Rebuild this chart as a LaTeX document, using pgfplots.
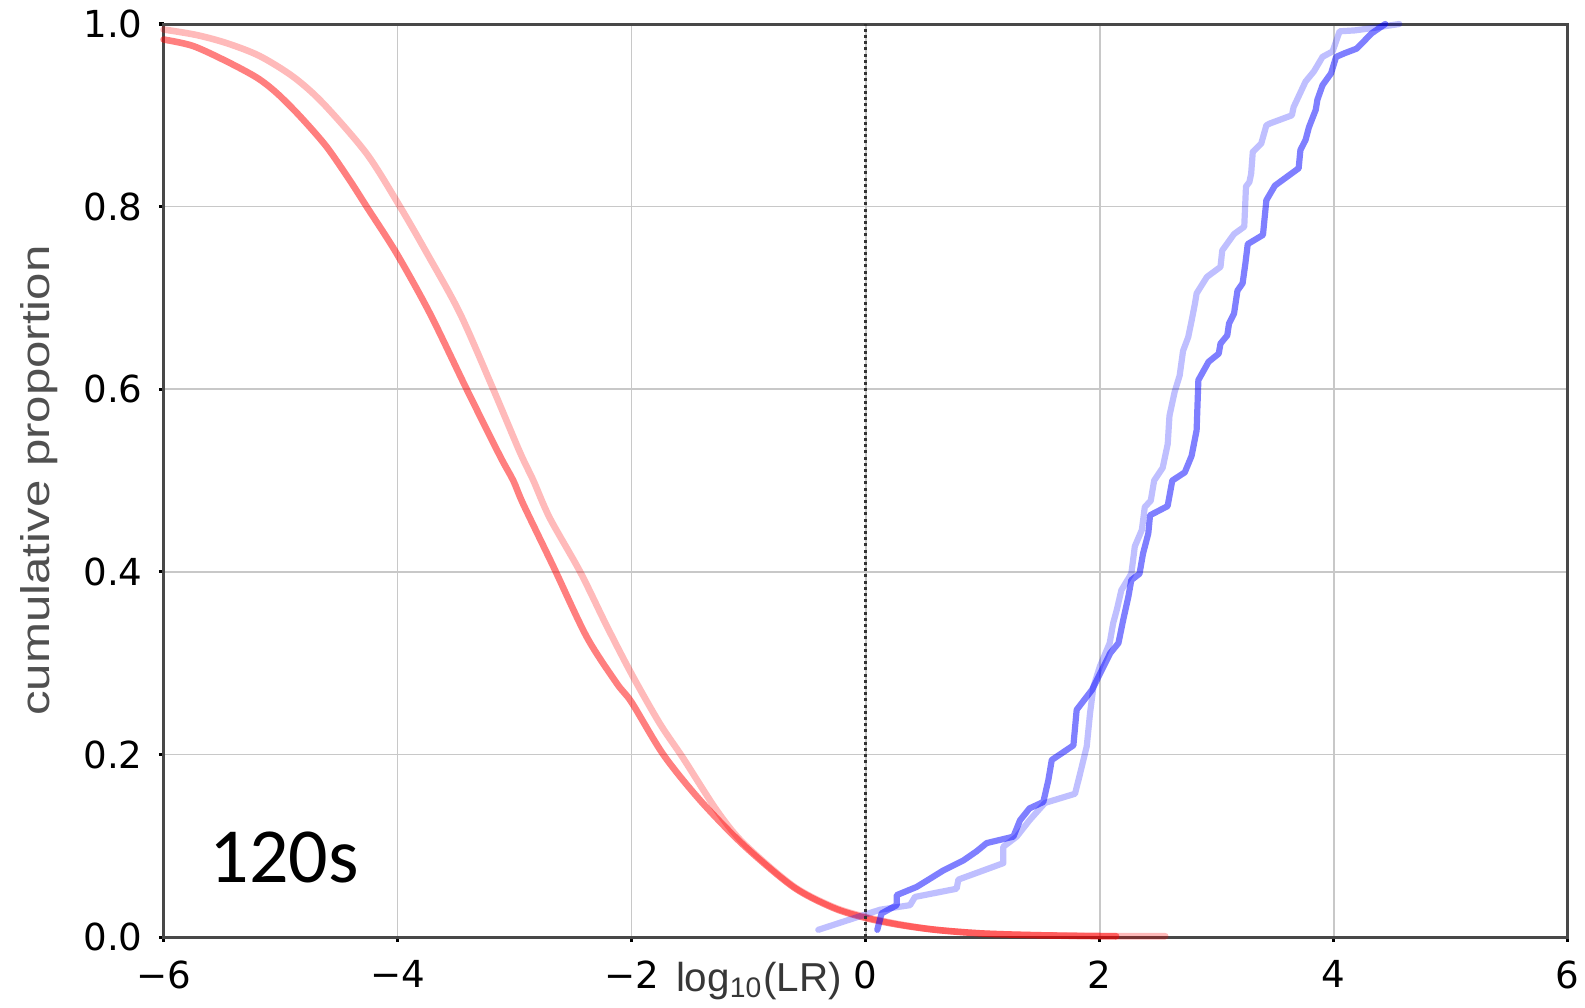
\documentclass[border=0pt]{standalone}
\usepackage{fontspec}
\setmainfont{Liberation Sans}
\newfontfamily\dejavu{DejaVu Sans}
\newfontfamily\carlito{Carlito}
\usepackage{pgfplots}
\pgfplotsset{compat=1.18}
\definecolor{gridgray}{RGB}{200,200,200}
\definecolor{framegray}{RGB}{72,72,72}
\definecolor{labelgray}{RGB}{80,80,80}
\definecolor{xlabgray}{RGB}{55,55,55}
\begin{document}
\begin{tikzpicture}
\begin{axis}[
  at={(0,0)}, anchor=south west,
  scale only axis, width=351pt, height=228.25pt,
  xmin=-6, xmax=6, ymin=0, ymax=1,
  clip=false,
  xtick={-6,-4,-2,0,2,4,6},
  xticklabels={−6,−4,−2,0,2,4,6},
  ytick={0,0.2,0.4,0.6,0.8,1},
  yticklabels={0.0,0.2,0.4,0.6,0.8,1.0},
  tick pos=left, tick align=outside,
  major tick length=1.2pt,
  tick style={black, line width=0.8pt},
  ticklabel style={font=\dejavu\fontsize{9.3}{10}\selectfont, text=black},
  xticklabel style={anchor=north, inner sep=0pt, yshift=-4.5pt},
  yticklabel style={anchor=east, inner sep=0pt, xshift=-3.85pt},
  grid=major,
  major grid style={gridgray, line width=0.4pt},
  axis line style={framegray, line width=0.75pt},
  xlabel={log\textsubscript{10}(LR)},
  xlabel style={at={(axis description cs:0.424,-0.0591)}, anchor=base, font=\fontsize{10.1}{12}\selectfont, text=xlabgray},
  ylabel={\scalebox{1.23}[1]{cumulative proportion}},
  ylabel style={at={(axis description cs:-0.081,0.5)}, anchor=base, font=\fontsize{10}{12}\selectfont, text=labelgray},
  every axis plot/.append style={line join=round, line cap=round},
]
% dark red
\addplot[draw=red, draw opacity=0.5, line width=1.65pt, smooth, tension=0.5] coordinates {
(-6,0.983) (-5.75,0.976) (-5.46,0.959) (-5.2,0.941) (-5.03,0.924) (-4.835,0.899) (-4.61,0.866) (-4.41,0.829) (-4.265,0.80) (-4.01,0.749) (-3.724,0.683) (-3.41,0.60) (-3.126,0.527) (-3.012,0.50) (-2.926,0.474) (-2.67,0.406) (-2.385,0.329) (-2.128,0.278) (-2,0.257) (-1.73,0.20) (-1.416,0.150) (-1.046,0.101) (-0.62,0.055) (-0.277,0.032) (0,0.021) (0.29,0.0134) (0.6,0.008) (1.0,0.004) (1.5,0.002) (2.14,0.001)
};
% light red
\addplot[draw=red, draw opacity=0.27, line width=1.65pt, smooth, tension=0.5] coordinates {
(-6,0.994) (-5.72,0.988) (-5.46,0.979) (-5.18,0.965) (-4.89,0.942) (-4.636,0.913) (-4.265,0.858) (-3.98,0.80) (-3.75,0.749) (-3.467,0.683) (-3.183,0.60) (-2.955,0.531) (-2.84,0.50) (-2.70,0.459) (-2.44,0.40) (-2.214,0.341) (-2,0.288) (-1.76,0.234) (-1.56,0.196) (-1.274,0.139) (-1.046,0.103) (-0.62,0.056) (-0.277,0.033) (0,0.022) (0.29,0.014) (0.6,0.008) (1.0,0.004) (1.5,0.002) (2.0,0.001) (2.56,0.001)
};
% dark blue
\addplot[draw=blue, draw opacity=0.5, line width=1.55pt] coordinates {
(0.099,0.008) (0.136,0.026) (0.265,0.035) (0.265,0.046) (0.436,0.055) (0.55,0.064) (0.663,0.073) (0.835,0.084) (0.948,0.094) (1.034,0.103) (1.262,0.110) (1.319,0.128) (1.40,0.141) (1.518,0.148) (1.561,0.172) (1.59,0.194) (1.775,0.210) (1.803,0.249) (1.935,0.271) (2.02,0.293) (2.09,0.311) (2.16,0.322) (2.20,0.347) (2.245,0.373) (2.27,0.391) (2.34,0.398) (2.37,0.420) (2.415,0.442) (2.43,0.462) (2.58,0.472) (2.62,0.50) (2.727,0.509) (2.785,0.527) (2.828,0.555) (2.843,0.610) (2.93,0.630) (3.017,0.639) (3.032,0.650) (3.09,0.659) (3.105,0.672) (3.148,0.683) (3.177,0.708) (3.221,0.716) (3.244,0.737) (3.265,0.759) (3.395,0.769) (3.424,0.807) (3.497,0.823) (3.70,0.842) (3.715,0.862) (3.759,0.873) (3.788,0.887) (3.846,0.906) (3.86,0.917) (3.904,0.933) (3.977,0.946) (4.02,0.964) (4.093,0.968) (4.195,0.973) (4.326,0.990) (4.44,1.0)
};
% light blue
\addplot[draw=blue, draw opacity=0.25, line width=1.55pt] coordinates {
(-0.405,0.008) (0.122,0.030) (0.379,0.035) (0.421,0.044) (0.777,0.053) (0.792,0.063) (1.176,0.081) (1.176,0.099) (1.29,0.110) (1.40,0.128) (1.532,0.147) (1.789,0.157) (1.832,0.179) (1.889,0.209) (1.917,0.245) (1.946,0.274) (2.0,0.296) (2.085,0.322) (2.115,0.344) (2.145,0.358) (2.185,0.380) (2.27,0.398) (2.30,0.428) (2.36,0.446) (2.385,0.471) (2.436,0.478) (2.465,0.50) (2.538,0.514) (2.581,0.540) (2.596,0.571) (2.64,0.597) (2.683,0.615) (2.712,0.642) (2.756,0.657) (2.785,0.675) (2.814,0.694) (2.828,0.705) (2.916,0.723) (3.032,0.734) (3.047,0.752) (3.148,0.770) (3.235,0.778) (3.25,0.822) (3.279,0.827) (3.294,0.836) (3.308,0.860) (3.38,0.869) (3.424,0.889) (3.453,0.891) (3.642,0.900) (3.657,0.909) (3.759,0.937) (3.83,0.948) (3.904,0.964) (3.99,0.970) (4.05,0.992) (4.18,0.993) (4.355,0.996) (4.56,1.0)
};
% dotted vertical line at 0
\addplot[draw=black!80, line width=0.75pt, dash pattern=on 0.75pt off 0.8pt, line cap=butt] coordinates {(0,0) (0,1)};
\node[font=\carlito\fontsize{19.5}{22}\selectfont, inner sep=0pt] at (axis cs:-4.97,0.0877) {120s};
\end{axis}
\pgfresetboundingbox
\path[use as bounding box] (-40.9pt,-17.7pt) rectangle (355.3pt,234.25pt);
\end{tikzpicture}
\end{document}
